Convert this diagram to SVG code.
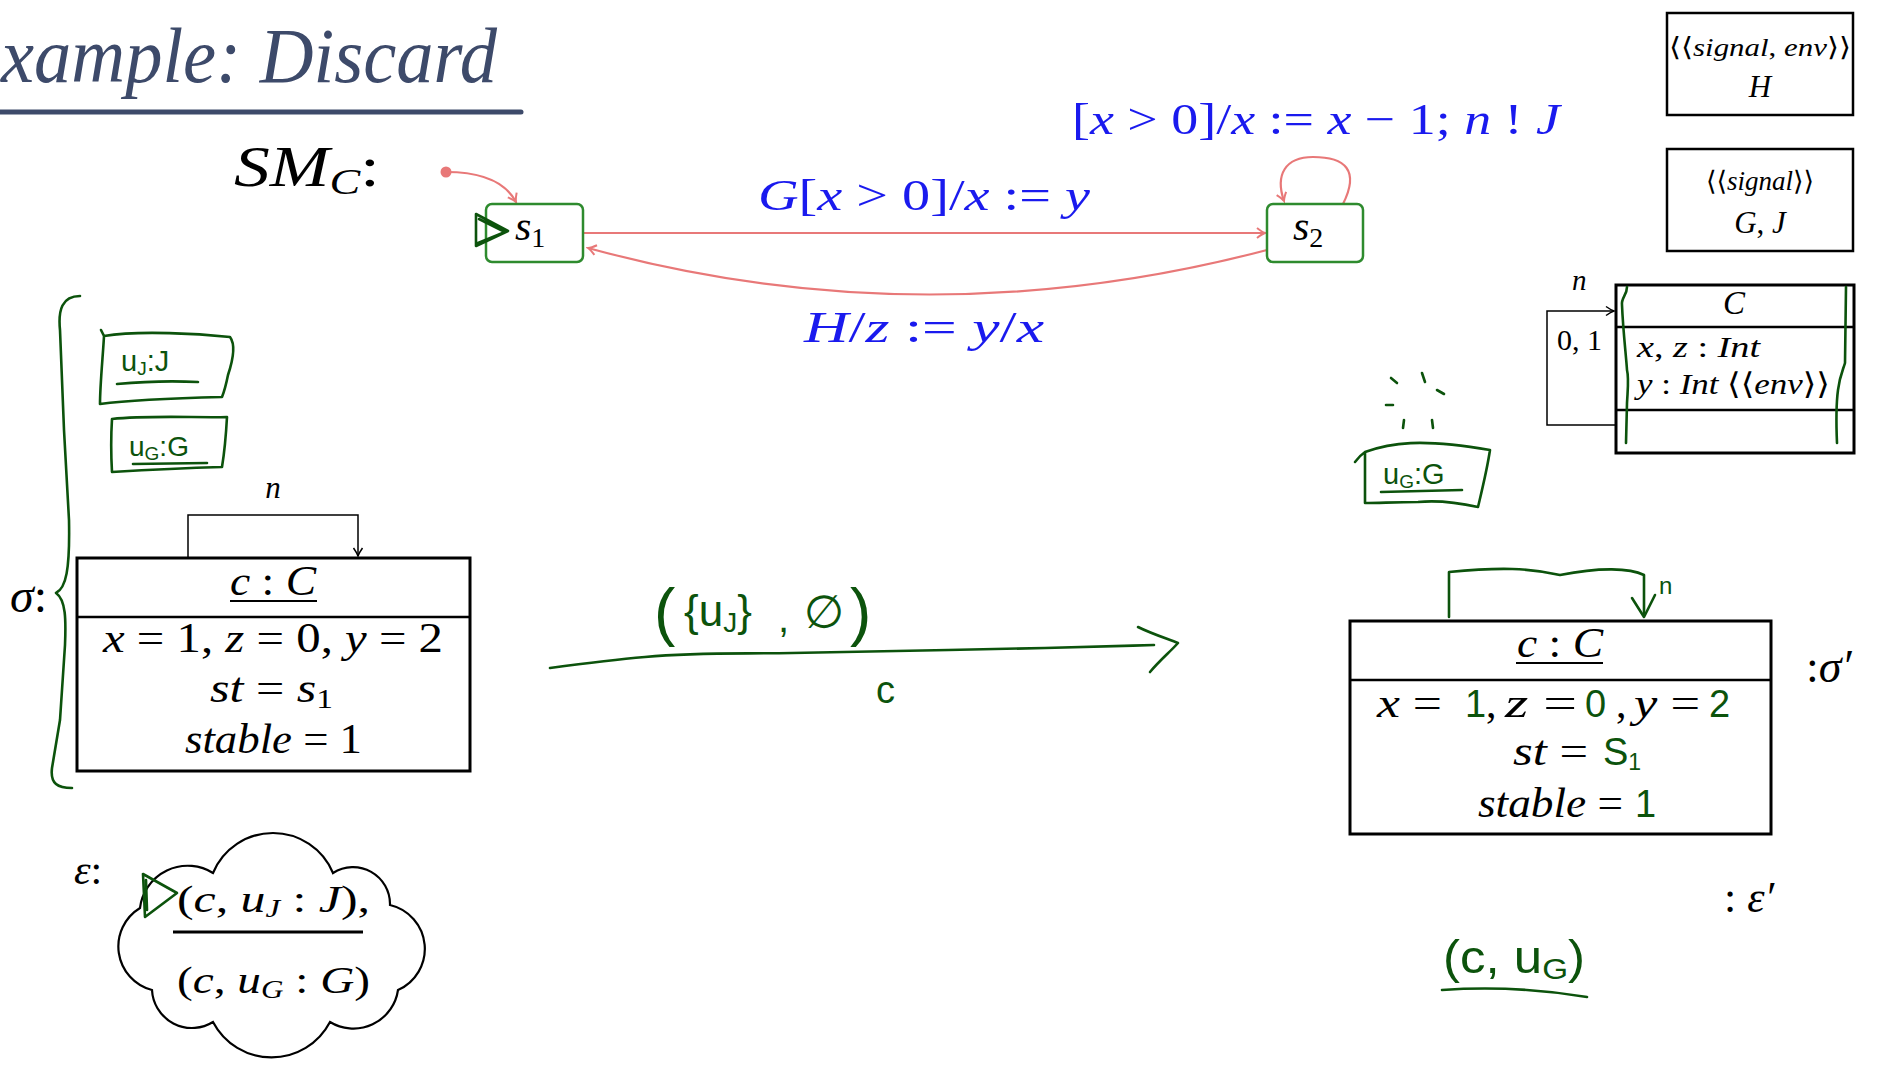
<svg xmlns="http://www.w3.org/2000/svg" width="1881" height="1071" viewBox="0 0 1881 1071">
<style>
.r{font-family:"Liberation Serif","DejaVu Serif",serif;font-style:normal}
.i{font-style:italic}
.blue{fill:#1a1aee}
.hw{font-family:"Liberation Sans","DejaVu Sans",sans-serif;fill:#0c530c}
.g{stroke:#0c530c;fill:none;stroke-width:2.6;stroke-linecap:round;stroke-linejoin:round}
.st{fill:#fff;stroke:#2e8b2e;stroke-width:2.5}
.tr{fill:none;stroke:#e87878;stroke-width:2.2}
.box{fill:#fff;stroke:#000;stroke-width:3}
.div{stroke:#000;stroke-width:2.5}
.thin{fill:none;stroke:#000;stroke-width:1.5}
</style>
<defs>
<marker id="pa" viewBox="-10 -6 12 12" refX="0" refY="0" markerWidth="12" markerHeight="12" orient="auto" markerUnits="userSpaceOnUse"><path d="M-8,-5 Q-3,-1 0,0 Q-3,1 -8,5" fill="none" stroke="#e87878" stroke-width="2"/></marker>
<marker id="ba" viewBox="-10 -6 12 12" refX="0" refY="0" markerWidth="12" markerHeight="12" orient="auto" markerUnits="userSpaceOnUse"><path d="M-8,-4.5 Q-3,-1 0,0 Q-3,1 -8,4.5" fill="none" stroke="#000" stroke-width="1.5"/></marker>
</defs>
<rect width="1881" height="1071" fill="#fff"/>

<g id="title">
<text x="1" y="82" class="r i" font-size="78" fill="#3d4a6a" textLength="496" lengthAdjust="spacingAndGlyphs">xample: Discard</text>
<line x1="-2" y1="112" x2="521" y2="112" stroke="#3d4a6a" stroke-width="5" stroke-linecap="round"/>
</g>

<g id="smc-label"><text x="234" y="186" class="r i" font-size="56" textLength="146" lengthAdjust="spacingAndGlyphs">SM<tspan font-size="36" dy="8">C</tspan><tspan dy="-8" font-style="normal">:</tspan></text></g>

<g id="connectors">
<circle cx="446" cy="172" r="5.5" fill="#e87878"/>
<path class="tr" d="M446,172 Q500,172 516,202" marker-end="url(#pa)"/>
<path class="tr" d="M583,233 L1265,233" marker-end="url(#pa)"/>
<path class="tr" d="M1267,250 Q924,340 588,248" marker-end="url(#pa)"/>
<path class="tr" d="M1343,204 C1360,170 1345,157 1313,157 C1285,157 1275,175 1284,201" marker-end="url(#pa)"/>
<path class="thin" d="M188,558 V515 H358 V556" marker-end="url(#ba)"/>
<path class="thin" d="M1616,425 H1547 V311 H1614" marker-end="url(#ba)"/>
<path class="g" d="M550,668 C580,664 610,660 645,657 C700,652 740,654 792,653 C880,651 960,650 1045,648 C1090,647 1120,646 1154,645"/>
<path class="g" d="M1138,627 C1150,633 1165,638 1178,643 C1170,652 1160,660 1150,672"/>
<path class="g" d="M1449,617 L1449,572 C1500,567 1530,568 1560,575 C1600,567 1630,568 1644,575 L1644,615"/>
<path class="g" d="M1632,598 L1644,617 L1655,595"/>
</g>

<g id="s1">
<rect class="st" x="486" y="204" width="97" height="58" rx="6"/>
<text x="515" y="240" class="r i" font-size="42">s<tspan font-size="28" dy="7" font-style="normal">1</tspan></text>
<path class="g" d="M476,214 L508,231 L476,246 Z M479,219 L505,232 L478,243"/>
</g>

<g id="s2">
<rect class="st" x="1267" y="204" width="96" height="58" rx="6"/>
<text x="1293" y="240" class="r i" font-size="42">s<tspan font-size="28" dy="7" font-style="normal">2</tspan></text>
</g>

<g id="labels">
<text x="758" y="210" font-size="44" textLength="332" lengthAdjust="spacingAndGlyphs" class="r blue"><tspan class="i">G</tspan>[<tspan class="i">x</tspan> &gt; 0]/<tspan class="i">x</tspan> := <tspan class="i">y</tspan></text>
<text x="1072" y="134" font-size="44" textLength="488" lengthAdjust="spacingAndGlyphs" class="r blue">[<tspan class="i">x</tspan> &gt; 0]/<tspan class="i">x</tspan> := <tspan class="i">x</tspan> − 1; <tspan class="i">n</tspan> ! <tspan class="i">J</tspan></text>
<text x="804" y="342" font-size="44" textLength="240" lengthAdjust="spacingAndGlyphs" class="r blue"><tspan class="i">H</tspan>/<tspan class="i">z</tspan> := <tspan class="i">y</tspan>/<tspan class="i">x</tspan></text>
</g>

<g id="sig-H">
<rect x="1667" y="13" width="186" height="102" fill="#fff" stroke="#000" stroke-width="2.5"/>
<text x="1760" y="56" text-anchor="middle" class="r" font-size="26" textLength="182" lengthAdjust="spacingAndGlyphs">⟨⟨<tspan class="i">signal</tspan>, <tspan class="i">env</tspan>⟩⟩</text>
<text x="1760" y="97" text-anchor="middle" class="r i" font-size="31">H</text>
</g>
<g id="sig-GJ">
<rect x="1667" y="149" width="186" height="102" fill="#fff" stroke="#000" stroke-width="2.5"/>
<text x="1760" y="190" text-anchor="middle" class="r" font-size="27">⟨⟨<tspan class="i">signal</tspan>⟩⟩</text>
<text x="1760" y="233" text-anchor="middle" class="r i" font-size="31">G<tspan font-style="normal">,</tspan> J</text>
</g>

<g id="class-C">
<rect x="1616" y="285" width="238" height="168" fill="#fff" stroke="#000" stroke-width="3"/>
<line class="div" x1="1616" y1="327" x2="1854" y2="327"/>
<line class="div" x1="1616" y1="410" x2="1854" y2="410"/>
<text x="1734" y="314" text-anchor="middle" class="r i" font-size="33">C</text>
<text x="1637" y="357" class="r" font-size="30" textLength="123" lengthAdjust="spacingAndGlyphs"><tspan class="i">x</tspan>, <tspan class="i">z</tspan> : <tspan class="i">Int</tspan></text>
<text x="1637" y="394" class="r" font-size="30" textLength="193" lengthAdjust="spacingAndGlyphs"><tspan class="i">y</tspan> : <tspan class="i">Int</tspan> ⟨⟨<tspan class="i">env</tspan>⟩⟩</text>
<text x="1572" y="290" class="r i" font-size="29">n</text>
<text x="1557" y="350" class="r" font-size="30">0, 1</text>
<path class="g" d="M1627,287 C1627,295 1621,298 1622,305 C1623,330 1626,355 1627,370 C1629,378 1628,385 1627,403 L1626,443"/>
<path class="g" d="M1846,287 L1845,363 C1843,370 1840,375 1838,390 C1836,405 1836,420 1837,443"/>
</g>

<g id="sigma">
<text x="10" y="612" class="r i" font-size="48">σ<tspan font-style="normal">:</tspan></text>
<path class="g" d="M80,296 C62,296 58,310 60,330 L64,430 L69,520 C70,570 66,588 56,593 C66,600 66,620 65,645 L60,720 L52,768 C50,784 58,788 72,788"/>
</g>

<g id="uJ-obj">
<path class="g" d="M101,330 L104,336 C140,330 200,334 230,337 C236,345 233,360 228,375 C226,385 224,392 222,397 C180,398 130,400 100,404 C100,385 103,355 104,336"/>
<text x="121" y="371" class="hw" font-size="29">u<tspan font-size="19" dy="4">J</tspan><tspan dy="-4">:J</tspan></text>
<path class="g" d="M117,384 Q160,380 198,382"/>
</g>

<g id="uG-obj">
<path class="g" d="M112,419 C150,415 200,418 227,417 C226,435 224,455 222,467 C185,468 145,470 112,472 C111,455 111,435 112,419 Z"/>
<text x="129" y="456" class="hw" font-size="28">u<tspan font-size="19" dy="4">G</tspan><tspan dy="-4">:G</tspan></text>
<path class="g" d="M133,464 L207,463"/>
</g>

<g id="c-obj">
<rect class="box" x="77" y="558" width="393" height="213"/>
<line class="div" x1="77" y1="617" x2="470" y2="617"/>
<text x="273" y="595" text-anchor="middle" class="r i" font-size="42" textLength="86" lengthAdjust="spacingAndGlyphs">c <tspan font-style="normal">:</tspan> C</text>
<line x1="230" y1="601" x2="317" y2="601" stroke="#000" stroke-width="2"/>
<text x="273" y="498" text-anchor="middle" class="r i" font-size="31">n</text>
<text x="273" y="652" text-anchor="middle" class="r" font-size="42" textLength="340" lengthAdjust="spacingAndGlyphs"><tspan class="i">x</tspan> = 1, <tspan class="i">z</tspan> = 0, <tspan class="i">y</tspan> = 2</text>
<text x="210" y="702" class="r" font-size="42" textLength="123" lengthAdjust="spacingAndGlyphs"><tspan class="i">st</tspan> = <tspan class="i">s</tspan><tspan font-size="28" dy="6">1</tspan></text>
<text x="185" y="753" class="r" font-size="42" textLength="177" lengthAdjust="spacingAndGlyphs"><tspan class="i">stable</tspan> = 1</text>
</g>

<g id="env">
<text x="74" y="884" class="r i" font-size="42">ε<tspan font-style="normal">:</tspan></text>
<path d="M213,873 A65,65 0 0 1 333,873 A37,37 0 0 1 390,905 A45,45 0 0 1 398,990 A45,45 0 0 1 330,1022 A66,66 0 0 1 213,1022 A40,40 0 0 1 152,990 A45,45 0 0 1 140,908 A48,48 0 0 1 213,873 Z" fill="#fff" stroke="#000" stroke-width="2.2"/>
<text x="177" y="912" class="r" font-size="38" textLength="193" lengthAdjust="spacingAndGlyphs">(<tspan class="i">c</tspan>, <tspan class="i">u</tspan><tspan class="i" font-size="25" dy="5">J</tspan><tspan dy="-5"> : </tspan><tspan class="i">J</tspan>),</text>
<line x1="173" y1="932" x2="363" y2="932" stroke="#000" stroke-width="3"/>
<text x="177" y="993" class="r" font-size="38" textLength="193" lengthAdjust="spacingAndGlyphs">(<tspan class="i">c</tspan>, <tspan class="i">u</tspan><tspan class="i" font-size="25" dy="5">G</tspan><tspan dy="-5"> : </tspan><tspan class="i">G</tspan>)</text>
<path class="g" d="M143,874 L145,917 L177,893 Z M146,880 L147,910"/>
</g>

<g id="step-label">
<text x="654" y="634" class="hw" font-size="64">(</text>
<text x="684" y="626" class="hw" font-size="44">{u<tspan font-size="28" dy="6">J</tspan><tspan dy="-6">}</tspan></text>
<text x="778" y="632" class="hw" font-size="40">,</text>
<text x="804" y="628" class="hw" font-size="46">∅</text>
<text x="850" y="634" class="hw" font-size="64">)</text>
<text x="876" y="703" class="hw" font-size="38">c</text>
</g>

<g id="uG-new">
<path class="g" d="M1391,378 L1397,383 M1422,373 L1425,382 M1437,390 L1444,394 M1386,405 L1393,405 M1404,420 L1403,428 M1432,420 L1433,428"/>
<path class="g" d="M1355,462 C1358,458 1362,454 1365,452 C1390,443 1420,438 1490,450 C1487,470 1482,490 1478,507 C1460,503 1440,500 1418,502 C1395,502 1380,503 1365,503 L1365,452"/>
<text x="1383" y="484" class="hw" font-size="29">u<tspan font-size="19" dy="4">G</tspan><tspan dy="-4">:G</tspan></text>
<path class="g" d="M1381,492 L1462,490"/>
</g>

<g id="c-obj-after">
<rect class="box" x="1350" y="621" width="421" height="213"/>
<line class="div" x1="1350" y1="680" x2="1771" y2="680"/>
<text x="1560" y="657" text-anchor="middle" class="r i" font-size="42" textLength="86" lengthAdjust="spacingAndGlyphs">c <tspan font-style="normal">:</tspan> C</text>
<line x1="1516" y1="663" x2="1603" y2="663" stroke="#000" stroke-width="2"/>
<text x="1377" y="717" class="r" font-size="42" textLength="65" lengthAdjust="spacingAndGlyphs"><tspan class="i">x</tspan> =</text>
<text x="1465" y="717" class="hw" font-size="38">1</text>
<text x="1486" y="717" class="r" font-size="42">,</text>
<text x="1505" y="717" class="r" font-size="42" textLength="72" lengthAdjust="spacingAndGlyphs"><tspan class="i">z</tspan> =</text>
<text x="1585" y="717" class="hw" font-size="38">0</text>
<text x="1616" y="717" class="r" font-size="42">,</text>
<text x="1634" y="717" class="r" font-size="42" textLength="66" lengthAdjust="spacingAndGlyphs"><tspan class="i">y</tspan> =</text>
<text x="1709" y="717" class="hw" font-size="38">2</text>
<text x="1513" y="765" class="r" font-size="42" textLength="75" lengthAdjust="spacingAndGlyphs"><tspan class="i">st</tspan> =</text>
<text x="1603" y="765" class="hw" font-size="38">S<tspan font-size="23" dy="5">1</tspan></text>
<text x="1478" y="817" class="r" font-size="42" textLength="145" lengthAdjust="spacingAndGlyphs"><tspan class="i">stable</tspan> =</text>
<text x="1635" y="817" class="hw" font-size="38">1</text>
<text x="1659" y="594" class="hw" font-size="24">n</text>
<text x="1806" y="682" class="r" font-size="46">:<tspan class="i">σ′</tspan></text>
</g>

<g id="env-after">
<text x="1724" y="912" class="r" font-size="44">: <tspan class="i">ε′</tspan></text>
<text x="1443" y="973" class="hw" font-size="46" textLength="142" lengthAdjust="spacingAndGlyphs">(c, u<tspan font-size="30" dy="6">G</tspan><tspan dy="-6">)</tspan></text>
<path class="g" d="M1442,990 Q1515,985 1587,997"/>
</g>
</svg>
